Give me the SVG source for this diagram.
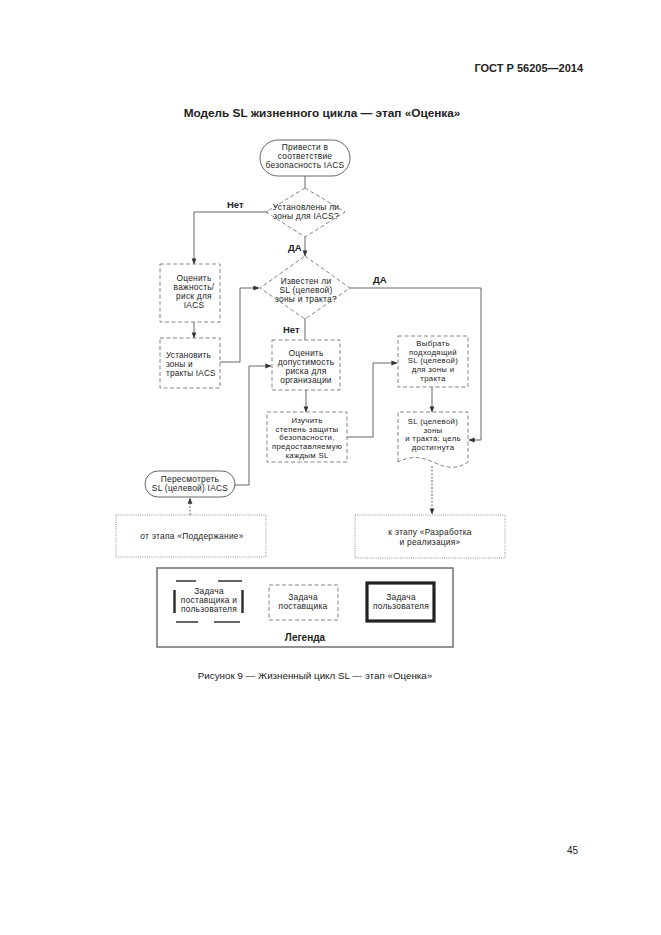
<svg xmlns="http://www.w3.org/2000/svg" width="661" height="935" viewBox="0 0 661 935">
<defs>
<marker id="ah" viewBox="0 0 8 8" refX="7.5" refY="4" markerWidth="6" markerHeight="6" orient="auto" markerUnits="userSpaceOnUse">
<path d="M0,0.8 L8,4 L0,7.2 Z" fill="#333"/>
</marker>
</defs>
<style>
text{font-family:"Liberation Sans",Arial,sans-serif;fill:#222}
.t{font-size:8.4px;letter-spacing:0.25px;text-anchor:middle}
.ts{font-size:7.8px;letter-spacing:0.3px;text-anchor:middle}
.tl{font-size:8.2px;letter-spacing:0.2px}
.b{font-weight:bold}
.dash{fill:none;stroke:#777;stroke-width:0.9;stroke-dasharray:4 2.5}
.dot{fill:none;stroke:#888;stroke-width:0.9;stroke-dasharray:1 1.2}
.solid{fill:none;stroke:#555;stroke-width:0.9}
.c{fill:none;stroke:#555;stroke-width:0.9}
.cd{fill:none;stroke:#555;stroke-width:0.9;stroke-dasharray:2 1.5}
</style>
<rect width="661" height="935" fill="#fff"/>
<text x="583" y="72" class="b" font-size="11" text-anchor="end">ГОСТ Р 56205—2014</text>
<text x="322" y="117" class="b" font-size="11.8" text-anchor="middle">Модель SL жизненного цикла — этап «Оценка»</text>

<g id="connectors">
<path class="c" d="M305,176 V188"/>
<path class="c" d="M268,212 H194 V264" marker-end="url(#ah)"/>
<path class="c" d="M305,237 V256" marker-end="url(#ah)"/>
<path class="c" d="M194,322 V338" marker-end="url(#ah)"/>
<path class="c" d="M220,362 H240 V288 H259" marker-end="url(#ah)"/>
<path class="c" d="M350,288 H481 V440 H469" marker-end="url(#ah)"/>
<path class="c" d="M305,318 V340"/>
<path class="c" d="M306,390 V412" marker-end="url(#ah)"/>
<path class="c" d="M347,437 H373 V363 H397" marker-end="url(#ah)"/>
<path class="c" d="M432,387 V412" marker-end="url(#ah)"/>
<path class="cd" d="M432,466 V514" marker-end="url(#ah)"/>
<path class="cd" d="M190,515 V498" marker-end="url(#ah)"/>
<path class="c" d="M235,485 H249 V366 H271" marker-end="url(#ah)"/>
<text x="227" y="208" class="b" font-size="9.5">Нет</text>
<text x="288" y="251" class="b" font-size="9.5">ДА</text>
<text x="373" y="283" class="b" font-size="9.5">ДА</text>
<text x="283" y="333" class="b" font-size="9.5">Нет</text>
</g>

<g id="start">
<rect class="solid" x="260" y="140" width="90" height="36" rx="18"/>
<text class="t" x="305" y="150">Привести в</text>
<text class="t" x="305" y="159">соответствие</text>
<text class="t" x="305" y="168">безопасность IACS</text>
</g>

<g id="dec1">
<path class="dash" d="M305,188 L345,212 L305,237 L266,212 Z"/>
<text class="t" x="306" y="210">Установлены ли</text>
<text class="t" x="306" y="219">зоны для IACS?</text>
</g>

<g id="dec2">
<path class="dash" d="M305,256 L350,288 L305,319 L260,288 Z"/>
<text class="t" x="306" y="284">Известен ли</text>
<text class="t" x="306" y="293">SL (целевой)</text>
<text class="t" x="306" y="302">зоны и тракта?</text>
</g>

<g id="assess">
<rect class="dash" x="160" y="264" width="60" height="58"/>
<text class="t" x="194" y="281">Оценить</text>
<text class="t" x="194" y="290">важность/</text>
<text class="t" x="194" y="299">риск для</text>
<text class="t" x="194" y="308">IACS</text>
</g>

<g id="zones">
<rect class="dash" x="160" y="338" width="60" height="50"/>
<text class="tl" x="166" y="358">Установить</text>
<text class="tl" x="166" y="367">зоны и</text>
<text class="tl" x="166" y="376">тракты IACS</text>
</g>

<g id="risk">
<rect class="dash" x="272" y="340" width="68" height="50"/>
<text class="t" x="306" y="356">Оценить</text>
<text class="t" x="306" y="365">допустимость</text>
<text class="t" x="306" y="374">риска для</text>
<text class="t" x="306" y="383">организации</text>
</g>

<g id="study">
<rect class="dash" x="267" y="412" width="80" height="50"/>
<text class="ts" x="307" y="423">Изучить</text>
<text class="ts" x="307" y="431.7">степень защиты</text>
<text class="ts" x="307" y="440.4">безопасности,</text>
<text class="ts" x="307" y="449.1">предоставляемую</text>
<text class="ts" x="307" y="457.8">каждым  SL</text>
</g>

<g id="choose">
<rect class="dash" x="398" y="336" width="70" height="51"/>
<text class="ts" x="433" y="346">Выбрать</text>
<text class="ts" x="433" y="354.7">подходящий</text>
<text class="ts" x="433" y="363.4">SL (целевой)</text>
<text class="ts" x="433" y="372.1">для зоны  и</text>
<text class="ts" x="433" y="380.8">тракта</text>
</g>

<g id="goal">
<path class="dash" d="M398,462 V412 H468 V462 C456,470 446,468 433,462 C420,456 410,456 398,462"/>
<text class="ts" x="433" y="424">SL (целевой)</text>
<text class="ts" x="433" y="432.7">зоны</text>
<text class="ts" x="433" y="441.4">и тракта: цель</text>
<text class="ts" x="433" y="450.1">достигнута</text>
</g>

<g id="review">
<rect class="solid" x="145" y="471" width="90" height="26" rx="13"/>
<text class="t" x="190" y="482">Пересмотреть</text>
<text class="t" x="190" y="491">SL (целевой) IACS</text>
</g>

<g id="from-maint">
<rect class="dot" x="116" y="515" width="150" height="42"/>
<text class="t" x="192" y="539">от этапа «Поддержание»</text>
</g>

<g id="to-dev">
<rect class="dot" x="355" y="515" width="150" height="43"/>
<text class="t" x="430" y="535">к этапу «Разработка</text>
<text class="t" x="430" y="545">и реализация»</text>
</g>

<g id="legend">
<rect x="157" y="568" width="296" height="79" fill="none" stroke="#666" stroke-width="1.4"/>
<g id="leg-both">
<path d="M176,581 H196 M218,581 H242 M176,622 H198 M214,622 H240" stroke="#333" stroke-width="1.4" fill="none"/>
<path d="M174.5,590 V613 M242.5,590 V613" stroke="#333" stroke-width="2.5" fill="none"/>
<text class="t" x="209" y="594">Задача</text>
<text class="t" x="209" y="603">поставщика и</text>
<text class="t" x="209" y="612">пользователя</text>
</g>
<g id="leg-supplier">
<rect class="dash" x="269" y="585" width="69" height="35"/>
<text class="t" x="303" y="600">Задача</text>
<text class="t" x="303" y="609">поставщика</text>
</g>
<g id="leg-user">
<rect x="367" y="583" width="67" height="38" fill="none" stroke="#222" stroke-width="3.2"/>
<text class="t" x="401" y="600">Задача</text>
<text class="t" x="401" y="609">пользователя</text>
</g>
<text x="305" y="641" class="b" font-size="10" text-anchor="middle">Легенда</text>
</g>

<text x="315" y="679" font-size="9.8" text-anchor="middle" fill="#333">Рисунок 9 — Жизненный цикл SL — этап «Оценка»</text>
<text x="578" y="854" font-size="10" text-anchor="end" fill="#333">45</text>
</svg>
